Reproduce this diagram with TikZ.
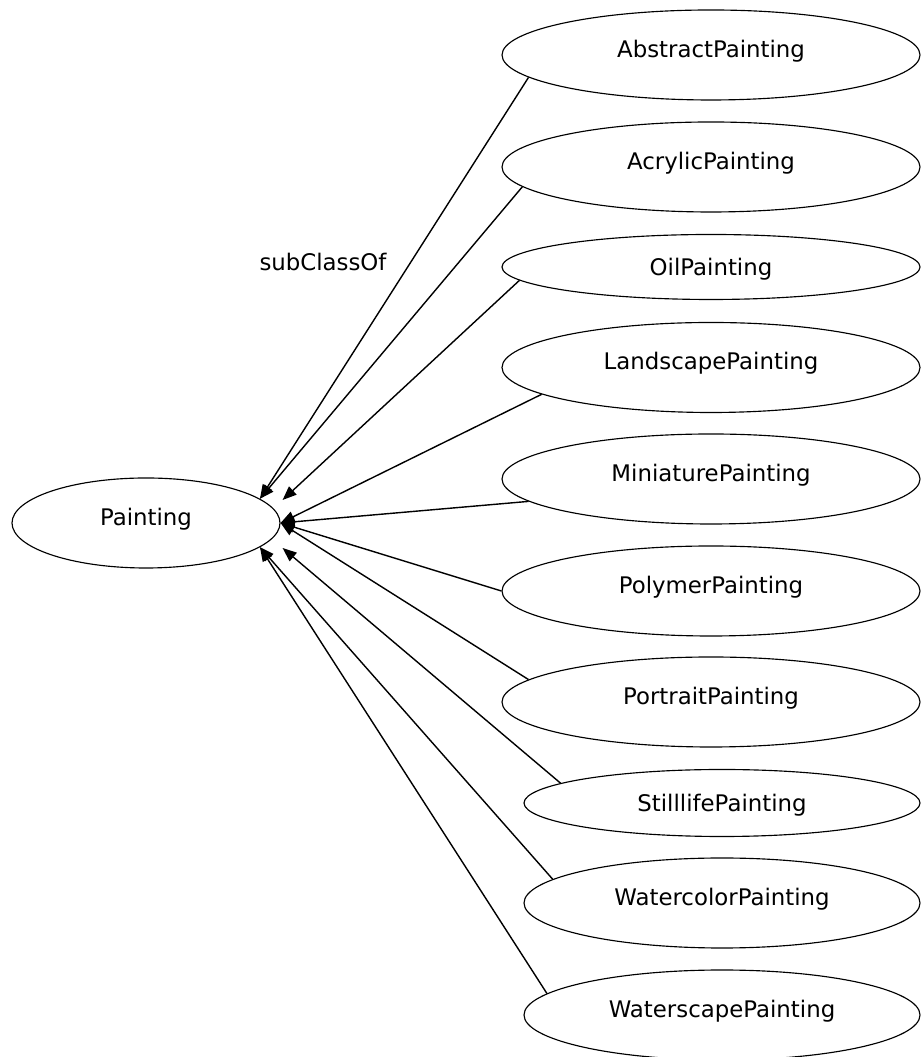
\documentclass[tikz,border=0pt]{standalone}
\usepackage{fontspec}
\setmainfont{DejaVu Sans}
\usetikzlibrary{calc,arrows.meta,shapes.geometric}
\tikzset{
	classnode/.style={draw, ellipse, line width=0.65pt, inner sep=0pt, text height=0.33cm, text depth=0.24cm},
	wideclass/.style={classnode, minimum width=8.36cm, minimum height=1.8cm},
	flatclass/.style={classnode, minimum width=8.36cm, minimum height=1.3cm, text depth=0cm},
	isa/.style={line width=0.8pt, -{Triangle[length=0.28cm, width=0.22cm]}}
}

\begin{document}
\begin{tikzpicture}[font=\fontsize{13pt}{15pt}\selectfont]
			%%%%% START %%%%%
			\useasboundingbox (0, 0) rectangle (18.44, 21.14);
			
			\node[wideclass, minimum width=5.36cm] (painting) at (2.92, 10.68) {Painting};
			
			\node[wideclass] (abstract) at (14.22, 20.04) {AbstractPainting};
			\node[wideclass] (acrylic) at (14.22, 17.80) {AcrylicPainting};
			\node[flatclass] (oil) at (14.22, 15.80) {OilPainting};
			\node[wideclass] (landscape) at (14.22, 13.79) {LandscapePainting};
			\node[wideclass] (miniature) at (14.22, 11.56) {MiniaturePainting};
			\node[wideclass] (polymer) at (14.22, 9.32) {PolymerPainting};
			\node[wideclass] (portrait) at (14.22, 7.10) {PortraitPainting};
			\node[flatclass, minimum width=7.92cm, minimum height=1.34cm] (stilllife) at (14.44, 5.08) {StilllifePainting};
			\node[wideclass, minimum width=7.92cm] (watercolor) at (14.44, 3.08) {WatercolorPainting};
			\node[wideclass, minimum width=7.92cm] (waterscape) at (14.44, 0.84) {WaterscapePainting};
			
			\coordinate (tipNE) at ($(painting.east)+(0.04, 0.46)$);
			\coordinate (tipSE) at ($(painting.east)+(0.04, -0.50)$);
			
			\draw[isa] (abstract.187) -- (painting.12);
			\draw[isa] (acrylic.186) -- (painting.12);
			\draw[isa] (oil.184) -- (tipNE);
			\draw[isa] (landscape.189) -- (painting.east);
			\draw[isa] (miniature.187) -- (painting.east);
			\draw[isa] (polymer.west) -- (painting.east);
			\draw[isa] (portrait.173) -- (painting.east);
			\draw[isa] (stilllife.173) -- (tipSE);
			\draw[isa] (watercolor.172) -- (painting.-12);
			\draw[isa] (waterscape.173) -- (painting.-12);
			
			\node (subclasslabel) at (6.46, 15.90) {subClassOf};
			%%%%% END %%%%%
\end{tikzpicture}
\end{document}
